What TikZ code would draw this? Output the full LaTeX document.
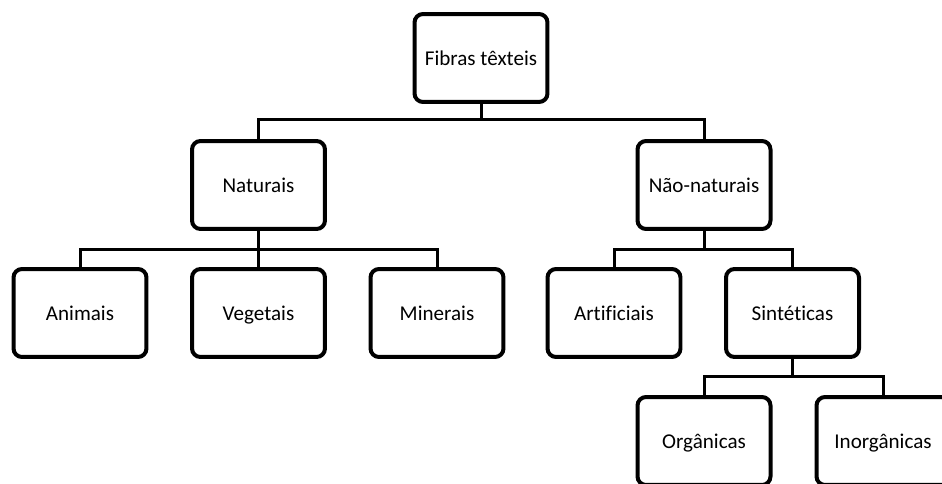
\documentclass[tikz,border=0pt]{standalone}
\usepackage{fontspec}
\setmainfont[Ligatures=NoCommon]{Carlito}
\usepackage{tikz}

\tikzset{
	fibra/.style={shape=rectangle,draw=black,line width=0.08cm,rounded corners=0.17cm,
		minimum width=2.66cm,minimum height=1.76cm,inner sep=0pt,
		text height=9.7pt,text depth=1.5pt,
		font=\fontsize{12}{14}\selectfont},
	liga/.style={draw=black,line width=0.06cm}
}

\begin{document}
\begin{tikzpicture}[x=0.02cm,y=-0.02cm]
	\useasboundingbox (0,0) rectangle (942,483);

	\node[fibra] (fibras)      at (481, 58)   {Fibras têxteis};
	\node[fibra] (naturais)    at (258.5, 185) {Naturais};
	\node[fibra] (naonat)      at (704, 185)  {Não-naturais};
	\node[fibra] (animais)     at (80, 313)   {Animais};
	\node[fibra] (vegetais)    at (258.5, 313) {Vegetais};
	\node[fibra] (minerais)    at (437, 313)  {Minerais};
	\node[fibra] (artificiais) at (614, 313)  {Artificiais};
	\node[fibra] (sinteticas)  at (792.5, 313) {Sintéticas};
	\node[fibra] (organicas)   at (704, 441)  {Orgânicas};
	\node[fibra] (inorganicas) at (883, 441)  {Inorgânicas};

	\path[liga] (fibras.south) -- ++(0,16) -| (naturais.north);
	\path[liga] (fibras.south) -- ++(0,16) -| (naonat.north);
	\path[liga] (naturais.south) -- ++(0,19) -| (animais.north);
	\path[liga] (naturais.south) -- (vegetais.north);
	\path[liga] (naturais.south) -- ++(0,19) -| (minerais.north);
	\path[liga] (naonat.south) -- ++(0,19) -| (artificiais.north);
	\path[liga] (naonat.south) -- ++(0,19) -| (sinteticas.north);
	\path[liga] (sinteticas.south) -- ++(0,18) -| (organicas.north);
	\path[liga] (sinteticas.south) -- ++(0,18) -| (inorganicas.north);

\end{tikzpicture}
\end{document}
